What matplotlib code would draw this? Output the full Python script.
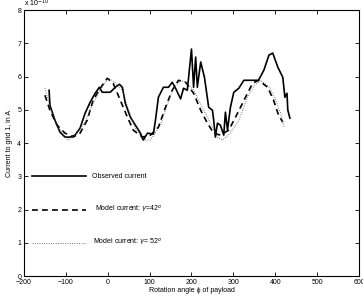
import matplotlib
matplotlib.use('Agg')
import matplotlib.pyplot as plt

plt.rcParams['font.family'] = ['Liberation Sans', 'DejaVu Sans']

# observed current (x 1e-10 A)
obs_x = [-140, -138, -126, -114, -102, -90, -78, -66, -54, -42, -30, -20, -13, 6, 18, 28, 35,
         42, 54, 66, 78, 85, 95, 109, 114, 121, 133, 145, 154, 162, 174, 181, 190, 200, 205,
         210, 214, 222, 231, 241, 250, 253, 257, 262, 269, 277, 281, 286, 293, 301, 313, 325,
         341, 360, 373, 385, 394, 406, 418, 423, 428, 430, 435]
obs_y = [5.59, 5.14, 4.69, 4.33, 4.18, 4.18, 4.24, 4.45, 4.9, 5.23, 5.5, 5.68, 5.53, 5.53, 5.68,
         5.77, 5.68, 5.2, 4.78, 4.54, 4.3, 4.09, 4.3, 4.27, 4.69, 5.38, 5.68, 5.68, 5.83, 5.65,
         5.33, 5.65, 5.59, 6.83, 5.68, 6.59, 5.68, 6.44, 5.98, 5.08, 4.99, 4.69, 4.18, 4.6,
         4.54, 4.24, 4.93, 4.39, 5.08, 5.53, 5.65, 5.89, 5.89, 5.89, 6.2, 6.65, 6.71, 6.29,
         5.98, 5.38, 5.5, 4.99, 4.75]

# model current, gamma = 42 deg
m42_x = [-150, -138, -121, -102, -83, -66, -49, -35, -18, -1, 13, 30, 47, 61, 83, 102, 121,
         138, 154, 169, 186, 205, 222, 238, 253, 269, 289, 310, 329, 346, 360, 382, 396, 408, 418]
m42_y = [5.44, 4.99, 4.54, 4.3, 4.18, 4.3, 4.69, 5.29, 5.65, 5.95, 5.8, 5.29, 4.78, 4.39, 4.18,
         4.24, 4.48, 5.08, 5.59, 5.89, 5.83, 5.5, 4.99, 4.6, 4.3, 4.24, 4.39, 4.9, 5.38, 5.8,
         5.89, 5.68, 5.29, 4.84, 4.63]

# model current, gamma = 52 deg
m52_x = [-150, -138, -119, -95, -78, -54, -35, -18, 1, 17, 35, 50, 66, 83, 102, 126, 142, 157,
         174, 186, 205, 226, 245, 262, 274, 293, 313, 334, 350, 365, 386, 401, 413, 421]
m52_y = [5.65, 5.1, 4.48, 4.09, 4.24, 4.63, 5.2, 5.6, 5.95, 5.83, 5.59, 4.99, 4.45, 4.09, 4.09,
         4.54, 5.14, 5.65, 5.89, 5.83, 5.6, 5.08, 4.6, 4.18, 4.09, 4.3, 4.69, 5.38, 5.74, 5.89,
         5.68, 5.29, 4.9, 4.48]

# legend drawn inside the axes (MATLAB style)
leg_x = [-181, -52]
leg_y = [3, 2, 1]
leg_text_x = [-37, -30, -35]
leg_labels = ['Observed current', r'Model current: $\gamma$=42$^o$', r'Model current: $\gamma$= 52$^o$']

fig = plt.figure(figsize=(3.63, 2.97), dpi=100)
ax = fig.add_axes([0.066, 0.0707, 0.923, 0.895])

ax.plot(obs_x, obs_y, color='black', lw=1.2)
ax.plot(m42_x, m42_y, color='black', lw=1.2, ls=(0, (3.5, 2.5)))
ax.plot(m52_x, m52_y, color='#555555', lw=0.7, ls=(0, (0.8, 1.6)))

styles = [dict(color='black', lw=1.2),
          dict(color='black', lw=1.2, ls=(0, (3.5, 2.5))),
          dict(color='#555555', lw=0.7, ls=(0, (0.8, 1.6)))]
for yy, tx, lab, st in zip(leg_y, leg_text_x, leg_labels, styles):
    ax.plot(leg_x, [yy, yy], **st)
    ax.text(tx, yy, lab, fontsize=5, va='center', ha='left')

ax.set_xlim(-200, 600)
ax.set_ylim(0, 8)
ax.set_xticks([-200, -100, 0, 100, 200, 300, 400, 500, 600])
ax.set_yticks(range(0, 9))
ax.tick_params(direction='in', top=True, right=True, labelsize=5, length=3, width=0.6, pad=2)
for s in ax.spines.values():
    s.set_linewidth(0.8)

ax.set_xlabel('Rotation angle \u03d5 of payload', fontsize=5, labelpad=1)
ax.set_ylabel('Current to grid 1, in A', fontsize=5, labelpad=3)
ax.text(-200, 8.05, r'x 10$^{-10}$', fontsize=5, ha='left', va='bottom')

fig.savefig('out.png', dpi=100)
